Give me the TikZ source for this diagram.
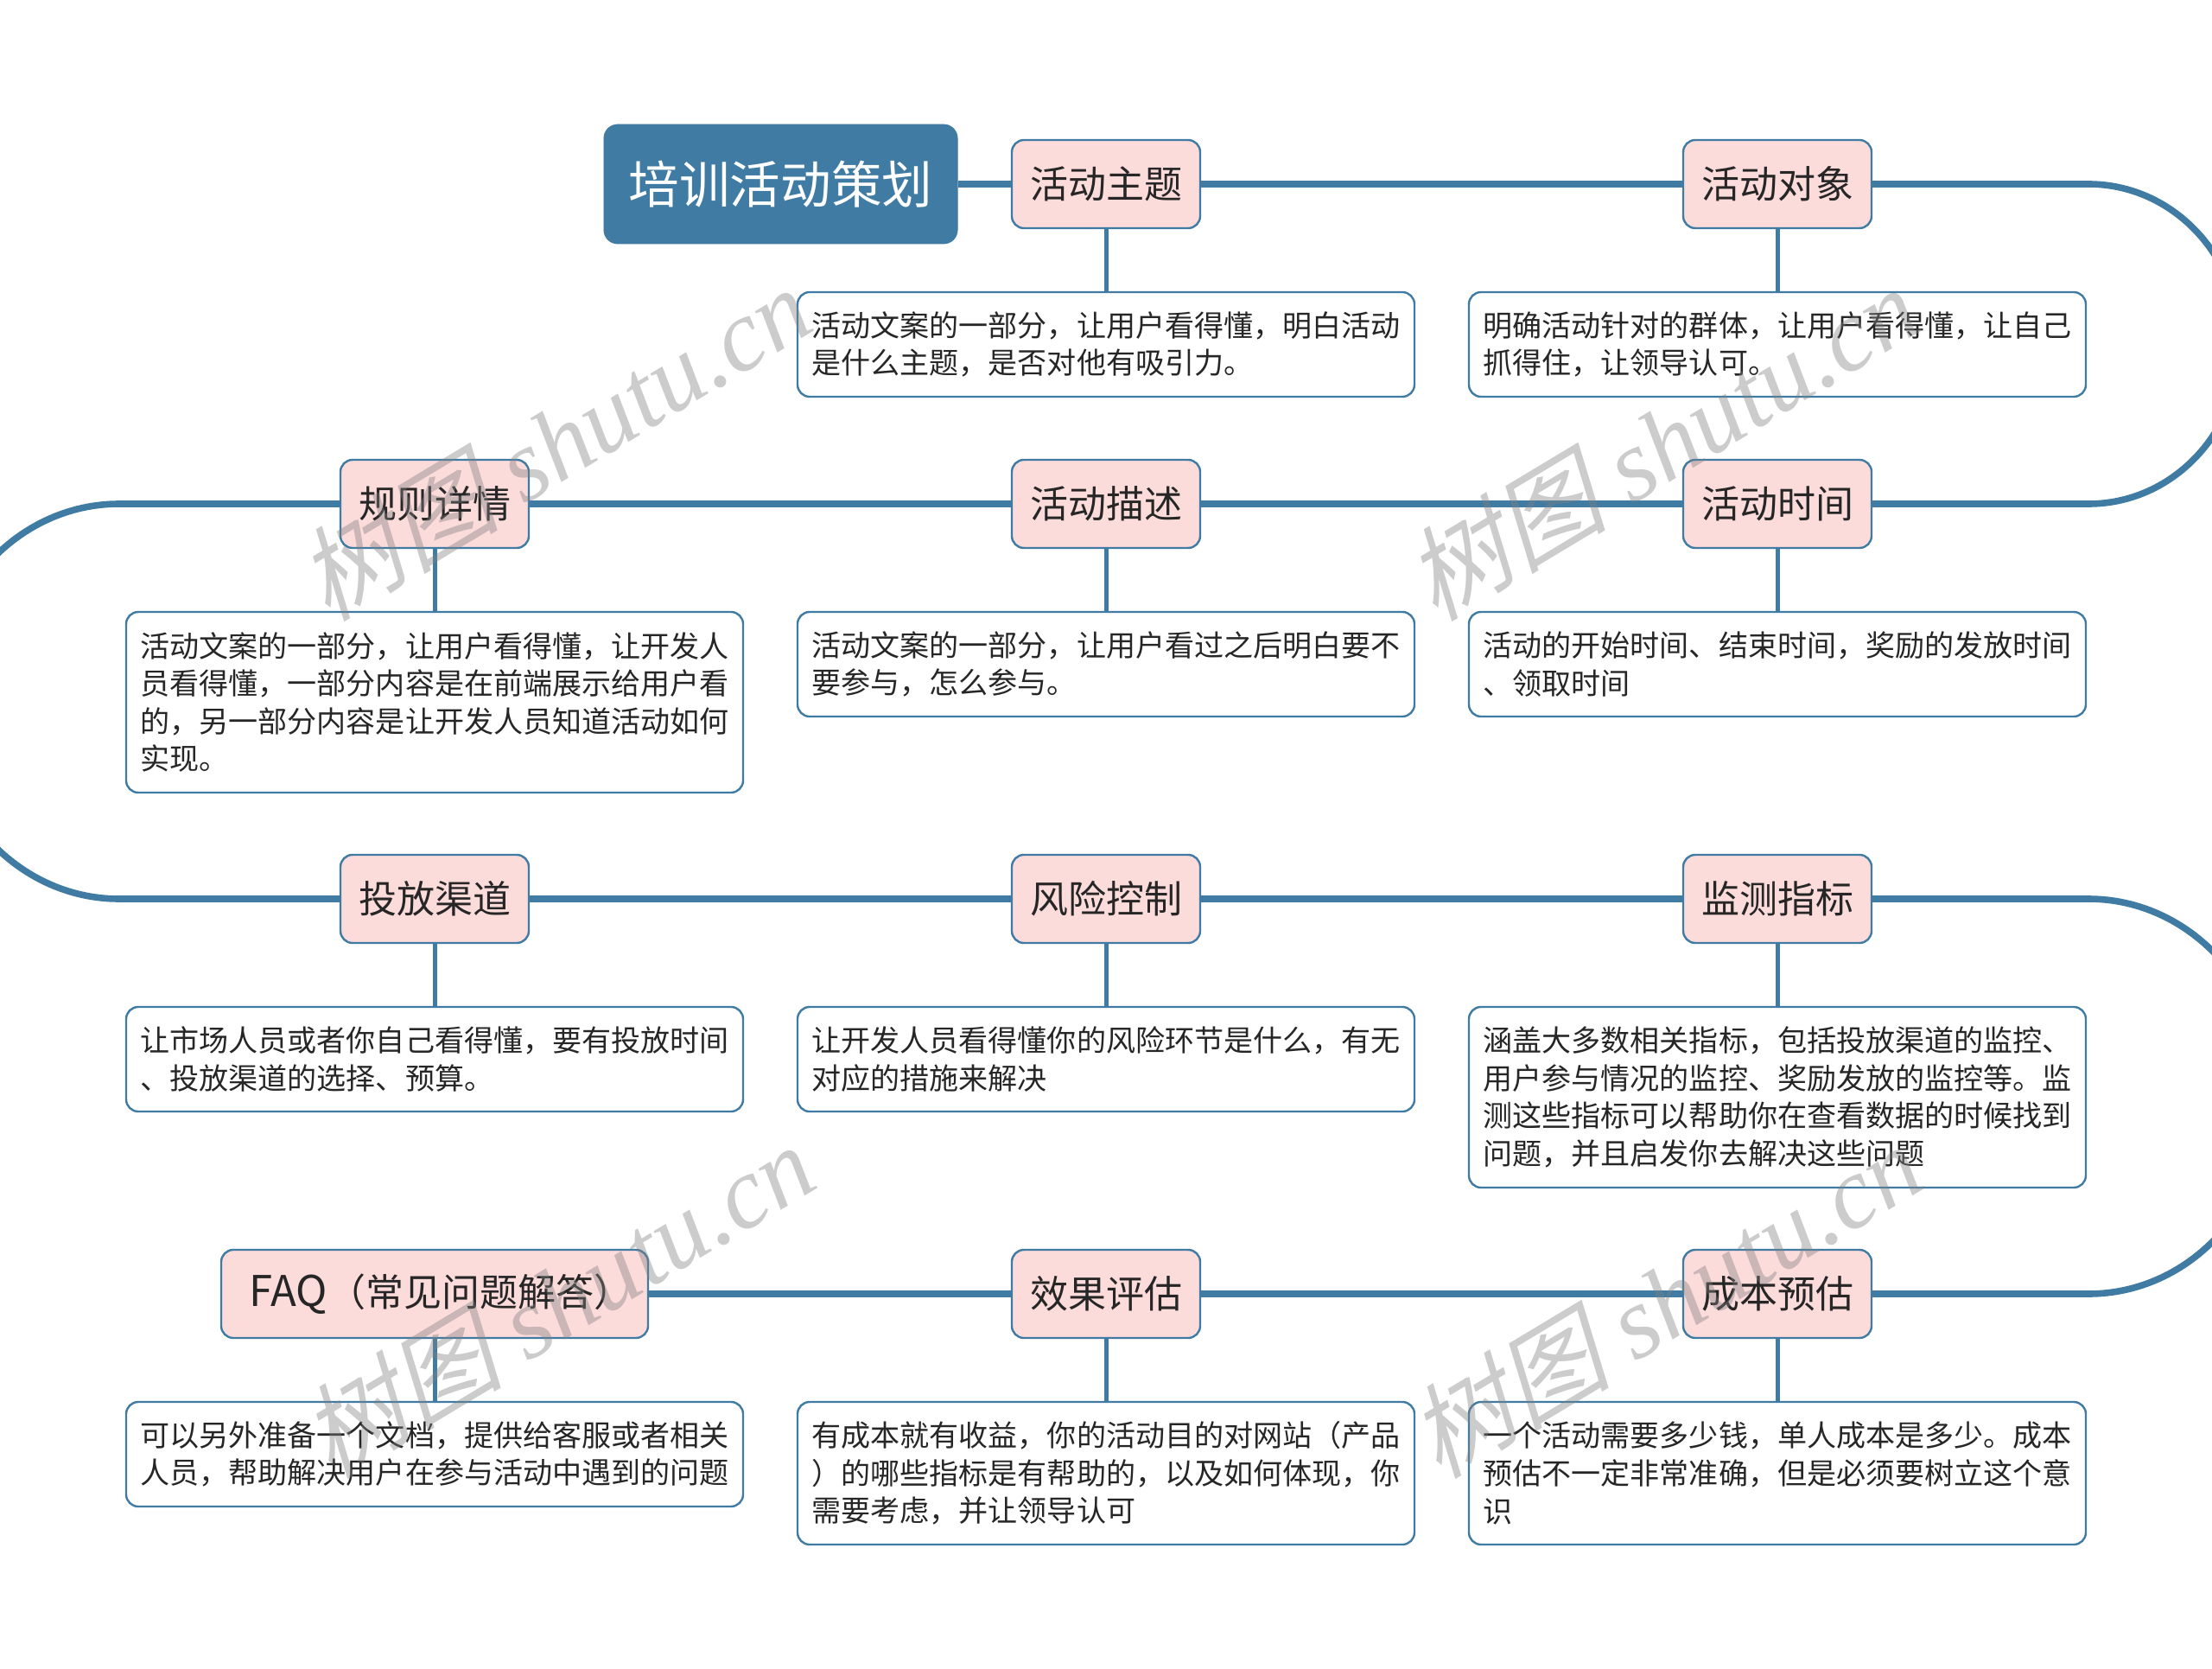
\documentclass[tikz,border=0pt]{standalone}
\usepackage{fontspec}
\setmainfont{Noto Sans CJK SC}
\newfontfamily\markfont{Liberation Serif}
\newfontfamily\markcjk[AutoFakeSlant=0.25]{Noto Sans CJK SC}
\definecolor{trunkblue}{HTML}{3F7BA3}
\definecolor{topicpink}{HTML}{FCDBDB}
\definecolor{inkgray}{HTML}{262626}
\tikzstyle{root} = [draw=trunkblue, fill=trunkblue, rectangle, rounded corners=8pt, text=white,
minimum height=69pt, minimum width=204.6pt, font=\fontsize{29.3}{34}\selectfont]
\tikzstyle{topic} = [draw=trunkblue, line width=1.2pt, fill=topicpink, rectangle, rounded corners=7pt, text=inkgray,
minimum height=51pt, minimum width=109pt, font=\fontsize{22}{26}\selectfont]
\tikzstyle{note} = [draw=trunkblue, line width=1.2pt, fill=white, rectangle, rounded corners=7pt, text=inkgray, align=left,
text width=340.5pt, inner xsep=8.25pt, inner ysep=0pt, font=\fontsize{17.03}{21.8}\selectfont]
\tikzstyle{trunk} = [draw=trunkblue, line width=3.8pt]
\tikzstyle{stem} = [draw=trunkblue, line width=2.5pt]
\tikzstyle{stamp} = [text=gray, text opacity=0.4, rotate=31, font=\markfont\itshape\fontsize{59}{64}\selectfont]
\begin{document}
\begin{tikzpicture}[x=1pt,y=1pt,node distance=388.5pt]

\clip (0,0) rectangle (1280,-965.5);

\node [topic] (topic1) at (640,-106.5) {活动主题};
\node [topic, right of=topic1] (topic2) {活动对象};
\node [topic, below of=topic2,node distance=185pt] (topic3) {活动时间};
\node [topic, left of=topic3] (topic4) {活动描述};
\node [topic, left of=topic4] (topic5) {规则详情};
\node [topic, below of=topic5,node distance=228.5pt] (topic6) {投放渠道};
\node [topic, right of=topic6] (topic7) {风险控制};
\node [topic, right of=topic7] (topic8) {监测指标};
\node [topic, below of=topic8,node distance=228.5pt] (topic9) {成本预估};
\node [topic, left of=topic9] (topic10) {效果评估};
\node [topic, left of=topic10, minimum width=247pt] (topic11) {\hspace{7pt}{\fontsize{24.5}{26}\selectfont FAQ}（常见问题解答）};
\node [root, left of=topic1,node distance=188.25pt] (root) {培训活动策划};

\node [note, below of=topic1,node distance=92.75pt,minimum height=60.5pt] (note1) {活动文案的一部分，让用户看得懂，明白活动\\是什么主题，是否对他有吸引力。};
\node [note, below of=topic2,node distance=92.75pt,minimum height=60.5pt] (note2) {明确活动针对的群体，让用户看得懂，让自己\\抓得住，让领导认可。};
\node [note, below of=topic3,node distance=92.75pt,minimum height=60.5pt] (note3) {活动的开始时间、结束时间，奖励的发放时间\\、领取时间};
\node [note, below of=topic4,node distance=92.75pt,minimum height=60.5pt] (note4) {活动文案的一部分，让用户看过之后明白要不\\要参与，怎么参与。};
\node [note, below of=topic5,node distance=114.75pt,minimum height=104.5pt] (note5) {活动文案的一部分，让用户看得懂，让开发人\\员看得懂，一部分内容是在前端展示给用户看\\的，另一部分内容是让开发人员知道活动如何\\实现。};
\node [note, below of=topic6,node distance=92.75pt,minimum height=60.5pt] (note6) {让市场人员或者你自己看得懂，要有投放时间\\、投放渠道的选择、预算。};
\node [note, below of=topic7,node distance=92.75pt,minimum height=60.5pt] (note7) {让开发人员看得懂你的风险环节是什么，有无\\对应的措施来解决};
\node [note, below of=topic8,node distance=114.75pt,minimum height=104.5pt] (note8) {涵盖大多数相关指标，包括投放渠道的监控、\\用户参与情况的监控、奖励发放的监控等。监\\测这些指标可以帮助你在查看数据的时候找到\\问题，并且启发你去解决这些问题};
\node [note, below of=topic9,node distance=103.75pt,minimum height=82.5pt] (note9) {一个活动需要多少钱，单人成本是多少。成本\\预估不一定非常准确，但是必须要树立这个意\\识};
\node [note, below of=topic10,node distance=103.75pt,minimum height=82.5pt] (note10) {有成本就有收益，你的活动目的对网站（产品\\）的哪些指标是有帮助的，以及如何体现，你\\需要考虑，并让领导认可};
\node [note, below of=topic11,node distance=92.75pt,minimum height=60.5pt] (note11) {可以另外准备一个文档，提供给客服或者相关\\人员，帮助解决用户在参与活动中遇到的问题};

\coordinate (bend1) at (1208.5,-106.5);
\coordinate (bend2) at (69,-291.5);
\coordinate (bend3) at (1208.5,-520);

\draw [trunk] (root) -- (topic1);
\draw [trunk] (topic1) -- (topic2);
\draw [trunk] (topic2) -- (bend1) arc[start angle=90,end angle=-90,x radius=88pt,y radius=92.5pt] -- (topic3);
\draw [trunk] (topic3) -- (topic4);
\draw [trunk] (topic4) -- (topic5);
\draw [trunk] (topic5) -- (bend2) arc[start angle=90,end angle=270,x radius=106pt,y radius=114.25pt] -- (topic6);
\draw [trunk] (topic6) -- (topic7);
\draw [trunk] (topic7) -- (topic8);
\draw [trunk] (topic8) -- (bend3) arc[start angle=90,end angle=-90,x radius=106pt,y radius=114.25pt] -- (topic9);
\draw [trunk] (topic9) -- (topic10);
\draw [trunk] (topic10) -- (topic11);

\foreach \n in {1,...,11}
  \draw [stem] (topic\n) -- (note\n);

\node [stamp] (stamp1) at (320,-256) {{\markcjk 树图} shutu.cn};
\node [stamp] (stamp2) at (961,-256) {{\markcjk 树图} shutu.cn};
\node [stamp] (stamp3) at (322,-752) {{\markcjk 树图} shutu.cn};
\node [stamp] (stamp4) at (963,-752) {{\markcjk 树图} shutu.cn};
\end{tikzpicture}
\end{document}
